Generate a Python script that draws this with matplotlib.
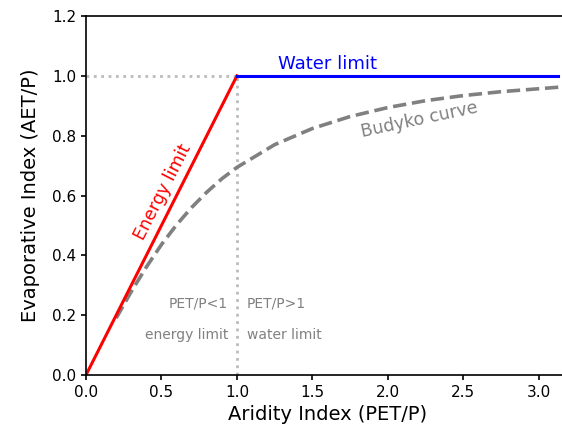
import matplotlib
matplotlib.use('Agg')
import matplotlib.pyplot as plt

# Budyko curve
budyko_x = [0.2, 0.3, 0.4, 0.5, 0.6, 0.7, 0.8, 0.9, 1.0, 1.25, 1.5, 1.75,
            2.0, 2.25, 2.5, 2.75, 3.13]
budyko_y = [0.19, 0.279, 0.361, 0.436, 0.502, 0.560, 0.611, 0.656, 0.694,
            0.770, 0.824, 0.864, 0.894, 0.917, 0.934, 0.947, 0.962]

energy_x = [0.0, 1.0]
energy_y = [0.0, 1.0]
water_x = [1.0, 3.125]
water_y = [1.0, 1.0]

xticks = [0.0, 0.5, 1.0, 1.5, 2.0, 2.5, 3.0]
yticks = [0.0, 0.2, 0.4, 0.6, 0.8, 1.0, 1.2]

fig = plt.figure(figsize=(5.62, 4.32), dpi=100)
ax = fig.add_axes([86 / 562, 57 / 432, 483 / 562, 359 / 432])

ax.plot([0, 1], [1, 1], color='#bbbbbb', linestyle=':', linewidth=2)
ax.plot([1, 1], [0, 1], color='#bbbbbb', linestyle=':', linewidth=2)
ax.plot(budyko_x, budyko_y, color='gray', linestyle='--', linewidth=2.6)
ax.plot(energy_x, energy_y, color='red', linewidth=2.2)
ax.plot(water_x, water_y, color='blue', linewidth=2.2)

ax.text(1.6, 1.04, 'Water limit', color='blue', fontsize=13, ha='center', va='center')
ax.text(0.51, 0.61, 'Energy limit', color='red', fontsize=12.5, ha='center', va='center',
        rotation=63)
ax.text(2.21, 0.853, 'Budyko curve', color='gray', fontsize=12.5, ha='center', va='center',
        rotation=12)
ax.text(0.94, 0.24, 'PET/P<1', color='gray', fontsize=10, ha='right', va='center')
ax.text(0.94, 0.134, 'energy limit', color='gray', fontsize=10, ha='right', va='center')
ax.text(1.065, 0.24, 'PET/P>1', color='gray', fontsize=10, ha='left', va='center')
ax.text(1.065, 0.134, 'water limit', color='gray', fontsize=10, ha='left', va='center')

ax.set_xlim(0, 3.2)
ax.set_ylim(0, 1.2)
ax.set_xticks(xticks)
ax.set_yticks(yticks)
ax.tick_params(labelsize=11, width=1.2)
for s in ax.spines.values():
    s.set_linewidth(1.2)
ax.set_xlabel('Aridity Index (PET/P)', fontsize=14)
ax.set_ylabel('Evaporative Index (AET/P)', fontsize=14, labelpad=9)

fig.savefig('out.png', dpi=100)
